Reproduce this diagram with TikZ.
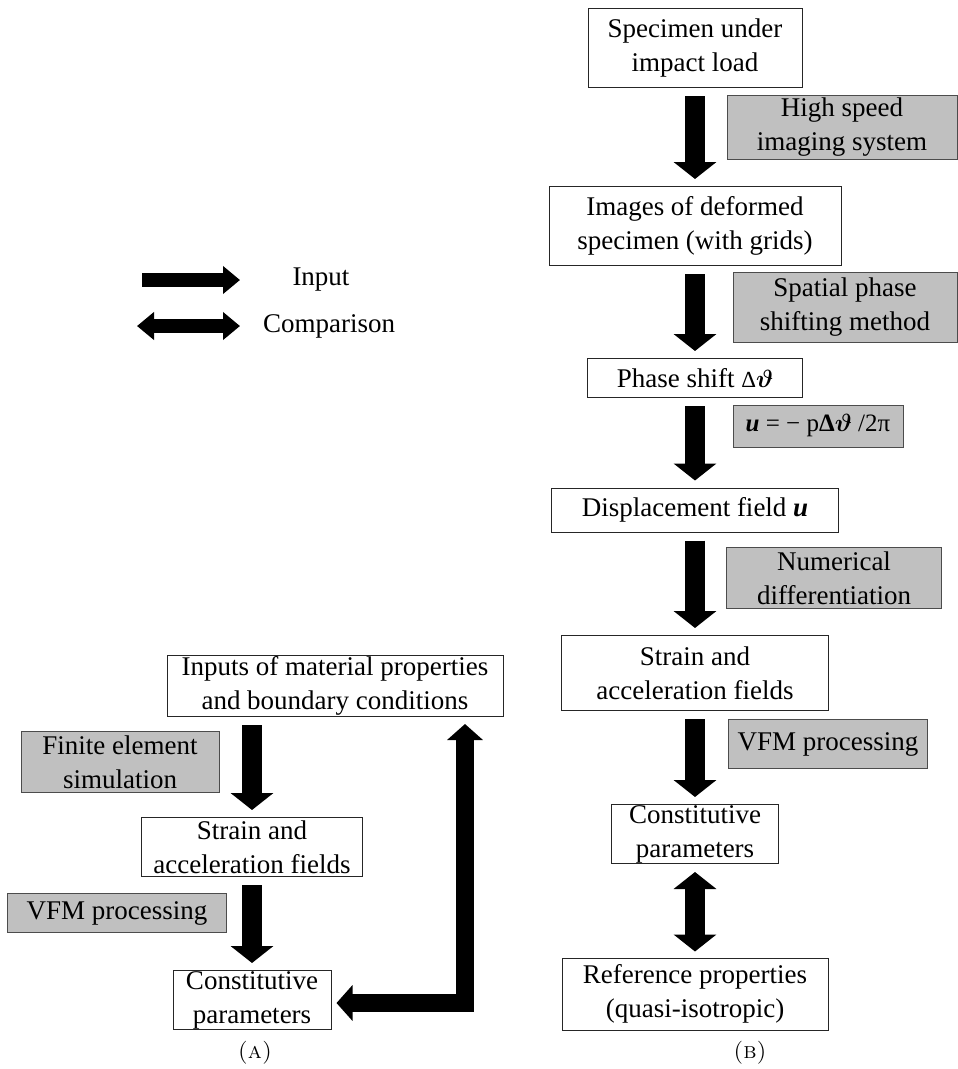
\documentclass[tikz,border=0pt]{standalone}
\usepackage{fontspec}
\usepackage{bm}
\usetikzlibrary{arrows.meta}
\newfontfamily\diagfont{Liberation Serif}
\definecolor{toolgray}{RGB}{192,192,192}

\begin{document}
\begin{tikzpicture}[x=1pt,y=-1pt,
  every node/.style={inner sep=0pt, align=center, font=\diagfont\fontsize{27}{34}\selectfont},
  stagebox/.style={draw=black!85, line width=1pt, fill=white},
  toolbox/.style={draw=black!70, line width=1pt, fill=toolgray},
  flowarrow/.style={line width=20pt, -{Triangle[width=42pt,length=17pt]}, shorten <=8pt, shorten >=7pt},
  comparearrow/.style={line width=20pt, {Triangle[width=42pt,length=17pt]}-{Triangle[width=42pt,length=17pt]}, shorten <=8pt, shorten >=6pt},
  loopback/.style={line width=18pt, line join=miter, {Triangle[width=35pt,length=16pt]}-{Triangle[width=35pt,length=16pt]}, shorten <=5pt, shorten >=7pt},
  legendarrow/.style={line width=14pt, -{Triangle[width=27pt,length=17pt]}},
  legendboth/.style={line width=14pt, {Triangle[width=27pt,length=17pt]}-{Triangle[width=27pt,length=17pt]}}]
\useasboundingbox (0,0) rectangle (958,1069);
% legend
\coordinate (inbeg) at (142,280);
\coordinate (inend) at (240,280);
\coordinate (cmpbeg) at (137,326);
\coordinate (cmpend) at (240,326);
\draw[legendarrow] (inbeg) -- (inend);
\draw[legendboth] (cmpbeg) -- (cmpend);
\node (inlabel) at (321,280) {Input};
\node[anchor=west] (cmplabel) at (263,326) {Comparison};
% (B) experiment
\node[stagebox, minimum width=214pt, minimum height=79pt] (spec) at (695,48) {Specimen under\\impact load};
\node[toolbox, minimum width=230pt, minimum height=64pt] (hsi) at (842,127) {High speed\\imaging system};
\node[stagebox, minimum width=292pt, minimum height=79pt] (images) at (695,226) {Images of deformed\\specimen (with grids)};
\node[toolbox, minimum width=224pt, minimum height=70pt] (sps) at (845,307) {Spatial phase\\shifting method};
\node[stagebox, minimum width=215pt, minimum height=39pt] (phase) at (695,378) {Phase shift {\fontsize{23}{26}\selectfont Δ}$\bm{\vartheta}$};
\node[toolbox, minimum width=170pt, minimum height=42pt, font=\diagfont\fontsize{25}{30}\selectfont] (formula) at (818,426) {\textbf{\textit{u}} = − p\textbf{Δ}$\bm{\vartheta}$ /2π};
\node[stagebox, minimum width=287pt, minimum height=44pt] (disp) at (695,510) {Displacement field \textbf{\textit{u}}};
\node[toolbox, minimum width=215pt, minimum height=61pt] (numdiff) at (834,578) {Numerical\\differentiation};
\node[stagebox, minimum width=267pt, minimum height=75pt] (strainb) at (695,673) {Strain and\\acceleration fields};
\node[toolbox, minimum width=199pt, minimum height=49pt] (vfmb) at (828,744) {VFM processing};
\node[stagebox, minimum width=167pt, minimum height=59pt] (constb) at (695,834) {Constitutive\\parameters};
\node[stagebox, minimum width=266pt, minimum height=72pt] (refb) at (695,994) {Reference properties\\(quasi-isotropic)};
\draw[flowarrow] (spec) -- (images);
\draw[flowarrow] (images) -- (phase);
\draw[flowarrow] (phase) -- (disp);
\draw[flowarrow] (disp) -- (strainb);
\draw[flowarrow] (strainb) -- (constb);
\draw[comparearrow] (constb) -- (refb);
% (A) simulation
\node[stagebox, minimum width=336pt, minimum height=61pt] (inputsa) at (335,686) {Inputs of material properties\\and boundary conditions};
\node[toolbox, minimum width=198pt, minimum height=61pt] (fea) at (120,762) {Finite element\\simulation};
\node[stagebox, minimum width=221pt, minimum height=59pt] (straina) at (252,847) {Strain and\\acceleration fields};
\node[toolbox, minimum width=219pt, minimum height=39pt] (vfma) at (117,913) {VFM processing};
\node[stagebox, minimum width=158pt, minimum height=59pt] (consta) at (252,1000) {Constitutive\\parameters};
\draw[flowarrow] (straina |- inputsa.south) -- (straina);
\draw[flowarrow] (straina) -- (consta);
\coordinate (bend) at (465,1003);
\draw[loopback] (bend -| consta.east) -- (bend) -- (bend |- inputsa.south);
% captions
\node[font=\rmfamily\fontsize{23}{27}\selectfont] (capa) at (255,1053) {\textsc{(a)}};
\node[font=\rmfamily\fontsize{23}{27}\selectfont] (capb) at (750,1053) {\textsc{(b)}};
\end{tikzpicture}
\end{document}
